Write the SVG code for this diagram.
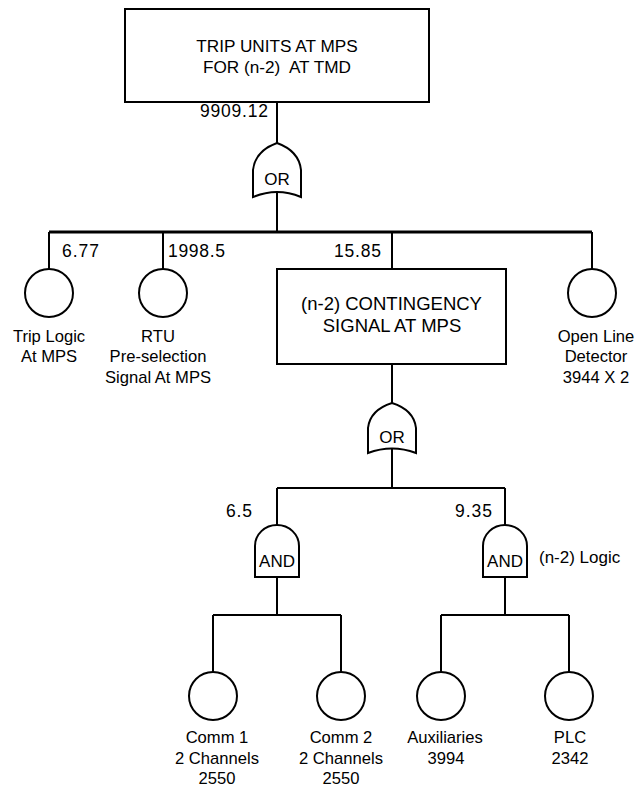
<svg xmlns="http://www.w3.org/2000/svg" width="638" height="790" viewBox="0 0 638 790">
<style>
text{font-family:"Liberation Sans",Arial,sans-serif;font-size:16.6px;fill:#000;white-space:pre}
.c{text-anchor:middle}
.box1{font-size:17.2px}
.box2{font-size:18.5px}
.gate{font-size:17px}
.prob{font-size:17.5px}
.shape{fill:#fff;stroke:#000;stroke-width:2}
.wire{fill:none;stroke:#000;stroke-width:2}
.bar{fill:none;stroke:#000;stroke-width:3}
</style>
<rect width="638" height="790" fill="#fff"/>
<g id="connectors">
<path class="wire" d="M277,102 V143 M277,192 V231"/>
<path class="bar" d="M49,232 H592"/>
<path class="wire" d="M49,232 V269 M163,232 V269 M392,232 V269 M592,232 V269"/>
<path class="wire" d="M392,364 V403 M392,449 V488"/>
<path class="wire" d="M277,488 H505 M277,488 V525 M505,488 V525"/>
<path class="wire" d="M277,577 V615 M213,615 H341 M213,615 V672 M341,615 V672"/>
<path class="wire" d="M505,577 V615 M441,615 H569 M441,615 V672 M569,615 V672"/>
</g>
<g id="top-event">
<rect class="shape" x="125" y="9" width="304" height="93"/>
<text class="c box1" x="277" y="52">TRIP UNITS AT MPS</text>
<text class="c box1" x="277" y="73">FOR (n-2)  AT TMD</text>
<text class="prob" x="200" y="117" textLength="68" lengthAdjust="spacing">9909.12</text>
</g>
<g id="or-gate-1">
<path class="shape" d="M253,197 L253,170 Q255,151 277,143 Q299,151 301,170 L301,197 Q277,187 253,197 Z"/>
<text class="c gate" x="277" y="185">OR</text>
</g>
<g id="trip-logic">
<circle class="shape" cx="49" cy="293" r="24"/>
<text class="prob" x="62" y="257" textLength="37" lengthAdjust="spacing">6.77</text>
<text class="c" x="49" y="342">Trip Logic</text>
<text class="c" x="49" y="362">At MPS</text>
</g>
<g id="rtu">
<circle class="shape" cx="163" cy="293" r="24"/>
<text class="prob" x="168" y="257" textLength="57" lengthAdjust="spacing">1998.5</text>
<text class="c" x="158" y="342">RTU</text>
<text class="c" x="158" y="362">Pre-selection</text>
<text class="c" x="158" y="383">Signal At MPS</text>
</g>
<g id="contingency">
<rect class="shape" x="277" y="269" width="229" height="95"/>
<text class="prob" x="334" y="257" textLength="47" lengthAdjust="spacing">15.85</text>
<text class="c box2" x="391.5" y="310">(n-2) CONTINGENCY</text>
<text class="c box2" x="392" y="332">SIGNAL AT MPS</text>
</g>
<g id="open-line">
<circle class="shape" cx="592" cy="293" r="24"/>
<text class="c" x="596" y="342">Open Line</text>
<text class="c" x="596" y="362">Detector</text>
<text class="c" x="596" y="383">3944 X 2</text>
</g>
<g id="or-gate-2">
<path class="shape" d="M368,453 L368,428 Q370,410 392,403 Q414,410 416,428 L416,453 Q392,444 368,453 Z"/>
<text class="c gate" x="392" y="443">OR</text>
</g>
<g id="and-gate-1">
<path class="shape" d="M255,577 L255,546 A22,21 0 0 1 299,546 L299,577 Z"/>
<text class="c gate" x="277" y="567">AND</text>
<text class="prob" x="226" y="517" textLength="26" lengthAdjust="spacing">6.5</text>
</g>
<g id="and-gate-2">
<path class="shape" d="M483,577 L483,546 A22,21 0 0 1 527,546 L527,577 Z"/>
<text class="c gate" x="505" y="567">AND</text>
<text class="prob" x="455" y="517" textLength="37" lengthAdjust="spacing">9.35</text>
<text class="gate" x="539" y="563">(n-2) Logic</text>
</g>
<g id="comm1">
<circle class="shape" cx="213" cy="696" r="24"/>
<text class="c" x="217" y="743">Comm 1</text>
<text class="c" x="217" y="764">2 Channels</text>
<text class="c" x="217" y="784">2550</text>
</g>
<g id="comm2">
<circle class="shape" cx="341" cy="696" r="24"/>
<text class="c" x="341" y="743">Comm 2</text>
<text class="c" x="341" y="764">2 Channels</text>
<text class="c" x="341" y="784">2550</text>
</g>
<g id="auxiliaries">
<circle class="shape" cx="441" cy="696" r="24"/>
<text class="c" x="445" y="743">Auxiliaries</text>
<text class="c" x="446" y="764">3994</text>
</g>
<g id="plc">
<circle class="shape" cx="569" cy="696" r="24"/>
<text class="c" x="570" y="743">PLC</text>
<text class="c" x="570" y="764">2342</text>
</g>
</svg>
